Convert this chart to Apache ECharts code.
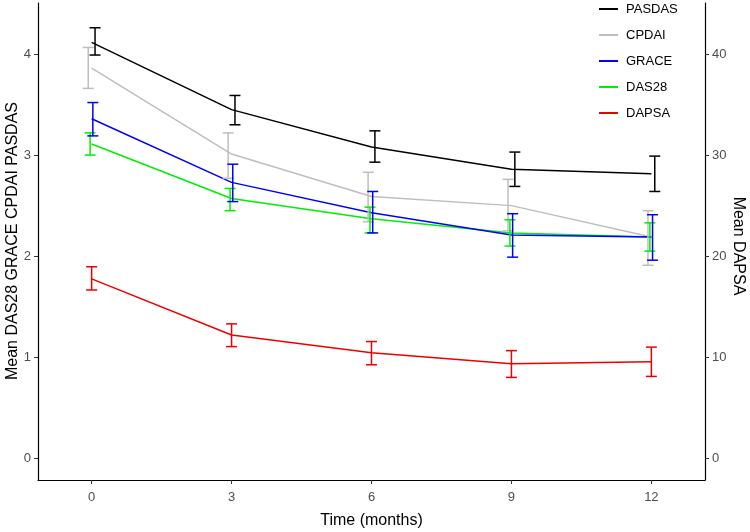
<!DOCTYPE html>
<html>
<head>
<meta charset="utf-8">
<script src="https://cdn.jsdelivr.net/npm/echarts@6/dist/echarts.min.js"></script>
<style>html,body{margin:0;padding:0;background:#fff}#c{width:750px;height:532px}</style>
</head>
<body>
<div id="c"></div>
<script>
const months = [0, 3, 6, 9, 12];
const tickMonths = [0, 3, 6, 9, 12];
const leftTicks = [0, 1, 2, 3, 4];
const rightTicks = [0, 10, 20, 30, 40];
const seriesNames = ['PASDAS', 'CPDAI', 'GRACE', 'DAS28', 'DAPSA'];
const leftTitle = 'Mean DAS28 GRACE CPDAI PASDAS';
const rightTitle = 'Mean DAPSA';
const xTitle = 'Time (months)';

const pasdasMean = [4.115, 3.45, 3.08, 2.86, 2.815];
const pasdasLow  = [3.99, 3.30, 2.93, 2.69, 2.64];
const pasdasHigh = [4.26, 3.59, 3.24, 3.03, 2.99];

const cpdaiMean = [3.86, 3.01, 2.59, 2.50, 2.19];
const cpdaiLow  = [3.66, 2.77, 2.34, 2.25, 1.91];
const cpdaiHigh = [4.065, 3.22, 2.83, 2.76, 2.45];

const graceMean = [3.36, 2.73, 2.43, 2.21, 2.19];
const graceLow  = [3.19, 2.54, 2.23, 1.99, 1.96];
const graceHigh = [3.52, 2.91, 2.64, 2.42, 2.41];

const das28Mean = [3.11, 2.57, 2.37, 2.23, 2.19];
const das28Low  = [3.00, 2.45, 2.23, 2.10, 2.05];
const das28High = [3.22, 2.67, 2.485, 2.36, 2.33];

const dapsaMean = [17.75, 12.2, 10.45, 9.35, 9.55];
const dapsaLow  = [16.65, 11.05, 9.25, 8.0, 8.1];
const dapsaHigh = [18.95, 13.3, 11.55, 10.65, 11.0];

const FONT = 'Liberation Sans, Arial, sans-serif';
const colors = {PASDAS:'#000000', CPDAI:'#bebebe', GRACE:'#0000ff', DAS28:'#00ee00', DAPSA:'#ee0000'};
const dodge = {PASDAS:3.4, CPDAI:-3.4, GRACE:1.2, DAS28:-1.5, DAPSA:0};
const defs = {
  PASDAS:[pasdasMean, pasdasLow, pasdasHigh, 0],
  CPDAI:[cpdaiMean, cpdaiLow, cpdaiHigh, 0],
  GRACE:[graceMean, graceLow, graceHigh, 0],
  DAS28:[das28Mean, das28Low, das28High, 0],
  DAPSA:[dapsaMean, dapsaLow, dapsaHigh, 1]
};

function errBar(name){
  const [m, lo, hi, yi] = defs[name];
  const col = colors[name], off = dodge[name], cap = 5.5;
  return {
    type:'custom', name: name + ' err', yAxisIndex: yi, silent:true, z:3,
    data: months.map((x,i)=>[x, lo[i], hi[i]]),
    encode:{x:0, y:[1,2]},
    renderItem: function(params, api){
      const p1 = api.coord([api.value(0), api.value(1)]);
      const p2 = api.coord([api.value(0), api.value(2)]);
      const cx = p1[0] + off;
      const st = {stroke: col, lineWidth: 1.5};
      return {type:'group', children:[
        {type:'line', shape:{x1:cx, y1:p1[1], x2:cx, y2:p2[1]}, style:st},
        {type:'line', shape:{x1:cx-cap, y1:p1[1], x2:cx+cap, y2:p1[1]}, style:st},
        {type:'line', shape:{x1:cx-cap, y1:p2[1], x2:cx+cap, y2:p2[1]}, style:st}
      ]};
    }
  };
}
function lineSeries(name){
  const [m, lo, hi, yi] = defs[name];
  return {
    type:'line', name:name, yAxisIndex: yi, showSymbol:false, symbol:'none', z:2,
    data: months.map((x,i)=>[x, m[i]]),
    lineStyle:{color: colors[name], width:1.5}, itemStyle:{color: colors[name]},
    emphasis:{disabled:true}
  };
}
const drawOrder = ['CPDAI', 'DAS28', 'GRACE', 'PASDAS', 'DAPSA'];
const series = [];
drawOrder.forEach(n=>{ series.push(lineSeries(n)); });
drawOrder.forEach(n=>{ series.push(errBar(n)); });

const axisLineStyle = {color:'#000', width:1.2};
const tickStyle = {color:'#333', width:1};
const labelStyle = {color:'#4d4d4d', fontSize:13, fontFamily:FONT};
const titleStyle = {color:'#000', fontSize:16, fontFamily:FONT};

const chart = echarts.init(document.getElementById('c'), null, {renderer:'canvas'});
chart.setOption({
  animation:false,
  backgroundColor:'#fff',
  grid:{left:38, right:45, top:3, bottom:52, containLabel:false, outerBoundsMode:'none'},
  legend:{
    data: seriesNames, orient:'vertical', left:599, top:2, padding:0,
    icon:'rect', itemWidth:19, itemHeight:2, itemGap:12,
    textStyle:{color:'#000', fontSize:13, fontFamily:FONT, lineHeight:14, padding:[0,0,0,3]},
    selectedMode:false
  },
  graphic:[
    {type:'text', x:13, y:241, rotation:Math.PI/2, silent:true,
     style:{text:leftTitle, fill:'#000', font:'16px ' + FONT, align:'center', verticalAlign:'middle'}},
    {type:'text', x:738, y:246, rotation:-Math.PI/2, silent:true,
     style:{text:rightTitle, fill:'#000', font:'16px ' + FONT, align:'center', verticalAlign:'middle'}}
  ],
  xAxis:{
    type:'value', min:-1.15, max:13.15,
    name:xTitle, nameLocation:'middle', nameGap:33,
    nameTextStyle:titleStyle,
    axisLine:{show:true, onZero:false, lineStyle:axisLineStyle},
    axisTick:{show:true, length:4, lineStyle:tickStyle, customValues: tickMonths},
    axisLabel:Object.assign({margin:11, customValues: tickMonths}, labelStyle),
    splitLine:{show:false}
  },
  yAxis:[{
    type:'value', min:-0.215, max:4.505, position:'left',
    axisLine:{show:true, onZero:false, lineStyle:axisLineStyle},
    axisTick:{show:true, length:4, lineStyle:tickStyle, customValues: leftTicks},
    axisLabel:Object.assign({margin:7, customValues: leftTicks}, labelStyle),
    splitLine:{show:false}
  },{
    type:'value', min:-2.15, max:45.05, position:'right',
    axisLine:{show:true, onZero:false, lineStyle:axisLineStyle},
    axisTick:{show:true, length:4, lineStyle:tickStyle, customValues: rightTicks},
    axisLabel:Object.assign({margin:7, customValues: rightTicks}, labelStyle),
    splitLine:{show:false}
  }],
  series: series
});
</script>
</body>
</html>
